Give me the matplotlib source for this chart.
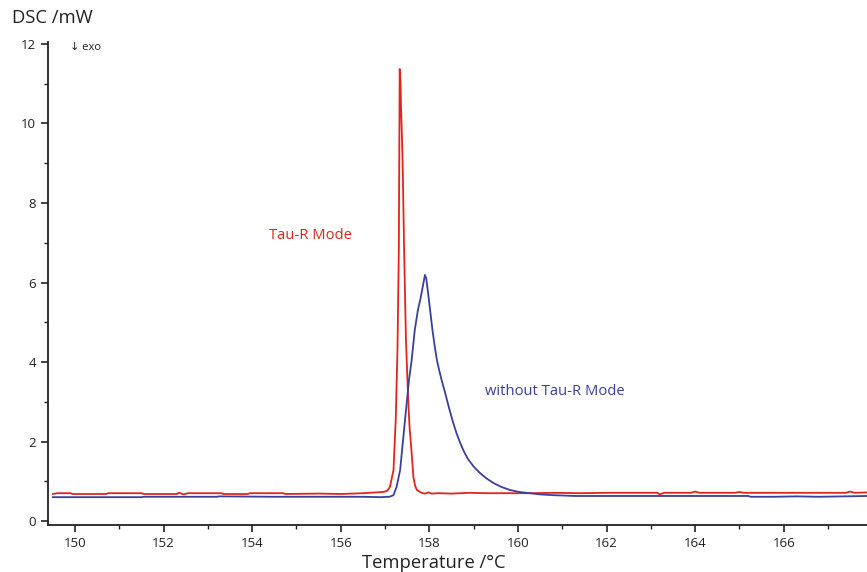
import matplotlib.pyplot as plt

red_temp = [149.5, 149.6, 149.9, 149.95, 150.7, 150.75, 151.5, 151.55, 152.3, 152.35, 152.45, 152.55,
            153.3, 153.35, 153.9, 153.95, 154.7, 154.75, 155.5, 156.0, 156.5, 156.95, 157.05, 157.11,
            157.19, 157.24, 157.28, 157.31, 157.33, 157.35, 157.36, 157.38, 157.40, 157.43, 157.47,
            157.52, 157.55, 157.60, 157.64, 157.68, 157.72, 157.82, 157.9, 157.98, 158.05, 158.2, 158.5,
            158.9, 159.3, 159.8, 160.3, 160.8, 161.4, 162.0, 162.6, 163.15, 163.2, 163.3, 163.9, 164.0,
            164.1, 164.9, 165.0, 165.1, 166.0, 166.8, 167.4, 167.5, 167.6, 167.9]
red_dsc = [0.68, 0.70, 0.70, 0.68, 0.68, 0.70, 0.70, 0.68, 0.68, 0.71, 0.67, 0.70,
           0.70, 0.68, 0.68, 0.70, 0.70, 0.68, 0.69, 0.68, 0.70, 0.73, 0.76, 0.86,
           1.28, 2.54, 4.30, 6.80, 11.37, 11.0, 10.4, 9.7, 8.8, 6.8, 4.6,
           3.1, 2.40, 1.71, 1.10, 0.88, 0.78, 0.71, 0.69, 0.72, 0.69, 0.70, 0.69,
           0.71, 0.70, 0.70, 0.70, 0.71, 0.70, 0.71, 0.71, 0.71, 0.67, 0.71, 0.71, 0.74,
           0.71, 0.71, 0.73, 0.71, 0.71, 0.71, 0.71, 0.74, 0.71, 0.72]

blue_temp = [149.5, 151.5, 151.55, 153.2, 153.25, 154.5, 155.5, 156.5, 156.9, 157.1, 157.19, 157.26,
             157.34, 157.45, 157.54, 157.60, 157.67, 157.74, 157.80, 157.86, 157.90, 157.93, 157.99,
             158.07, 158.12, 158.17, 158.22, 158.28, 158.35, 158.44, 158.53, 158.61, 158.69, 158.78,
             158.87, 159.0, 159.14, 159.28, 159.44, 159.62, 159.82, 160.03, 160.27, 160.5, 160.8,
             161.3, 162.0, 162.5, 163.5, 164.5, 165.2, 165.25, 165.8, 166.3, 166.8, 167.9]
blue_dsc = [0.60, 0.60, 0.61, 0.61, 0.62, 0.61, 0.61, 0.61, 0.60, 0.61, 0.65, 0.86,
            1.28, 2.54, 3.55, 4.05, 4.80, 5.30, 5.60, 5.95, 6.19, 6.10, 5.56,
            4.80, 4.40, 4.05, 3.80, 3.53, 3.25, 2.86, 2.50, 2.22, 1.98, 1.75,
            1.56, 1.37, 1.21, 1.08, 0.96, 0.86, 0.78, 0.73, 0.70, 0.67, 0.65,
            0.63, 0.63, 0.63, 0.63, 0.63, 0.63, 0.61, 0.61, 0.62, 0.61, 0.63]

red = "#e3231c"
blue = "#3a3f9b"
plt.rcParams["font.family"] = ["Open Sans", "DejaVu Sans"]

fig = plt.figure(figsize=(8.67, 5.72), dpi=100)
ax = fig.add_axes([48 / 867, 1 - 525 / 572, 1 - 48 / 867, (525 - 42) / 572])

ax.plot(red_temp, red_dsc, color=red, lw=1.3)
ax.plot(blue_temp, blue_dsc, color=blue, lw=1.3)

ax.set_xlim(149.39, 167.88)
ax.set_ylim(-0.1, 12.05)
ax.set_xticks(range(150, 167, 2))
ax.set_xticks(range(151, 168, 2), minor=True)
ax.set_yticks(range(0, 13, 2))
ax.set_yticks(range(1, 12, 2), minor=True)
ax.spines["top"].set_visible(False)
ax.spines["right"].set_visible(False)
for s in ["left", "bottom"]:
    ax.spines[s].set_linewidth(1.3)
    ax.spines[s].set_color("#222222")
ax.tick_params(which="major", length=5, width=1.2, labelsize=9.5, colors="#222222")
ax.tick_params(which="minor", length=3, width=1.0, colors="#222222")

ax.text(154.38, 7.17, "Tau-R Mode", color=red, fontsize=10.6, va="center")
ax.text(159.26, 3.27, "without Tau-R Mode", color=blue, fontsize=10.6, va="center")
ax.text(149.89, 11.92, "↓ exo", fontsize=8, va="center", color="#222222")

fig.text(12 / 867, 1 - 18 / 572, "DSC /mW", fontsize=13.3, va="center", ha="left", color="#222222")
fig.text(434 / 867, 1 - 563 / 572, "Temperature /°C", fontsize=13.2, va="center", ha="center", color="#222222")

fig.savefig("out.png", dpi=100)
